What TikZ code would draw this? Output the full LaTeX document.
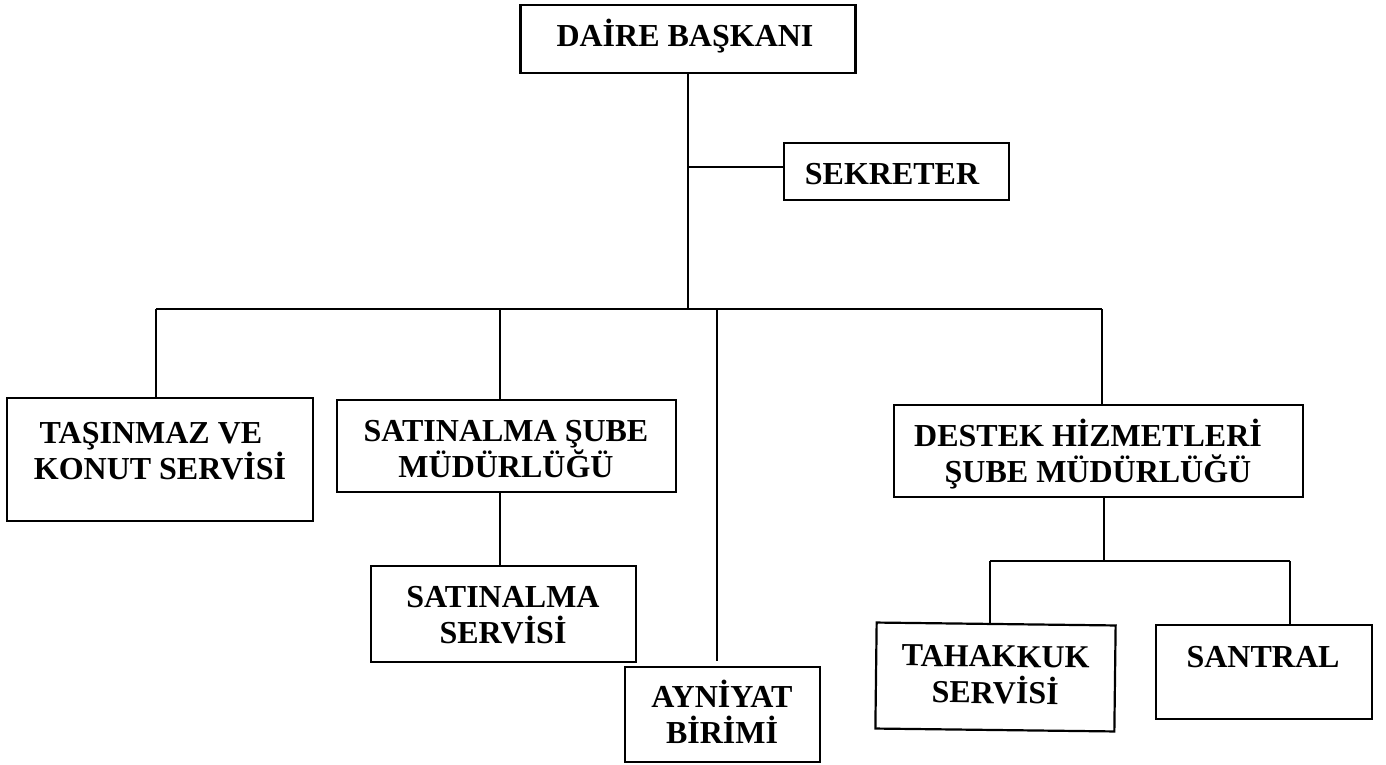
\documentclass[tikz,border=0pt]{standalone}
\usepackage{fontspec}
\setmainfont{Liberation Serif}
\newcommand\orgfont{\fontsize{32}{36.5}\selectfont\bfseries}
\newcommand\twolines[2]{\vtop{\halign{\hfil##\hfil\cr #1\cr #2\cr}}}
\begin{document}
\begin{tikzpicture}[x=1pt,y=-1pt,
  box/.style={draw, line width=2.2pt, rectangle, inner sep=0pt, outer sep=0pt},
  lbl/.style={inner sep=0pt, anchor=base, font=\orgfont},
  conn/.style={line width=1.8pt}]
\useasboundingbox (0,0) rectangle (1386,765);
\fill[white] (0,0) rectangle (1386,765);

% boxes
\node[box, minimum width=335pt, minimum height=68pt] (daire) at (688,39) {};
\node[box, minimum width=225pt, minimum height=57pt] (sekreter) at (896.5,171.5) {};
\node[box, minimum width=306pt, minimum height=123pt] (tasinmaz) at (160,459.5) {};
\node[box, minimum width=339pt, minimum height=92pt] (satsube) at (506.5,446) {};
\node[box, minimum width=265pt, minimum height=96pt] (satserv) at (503.5,614) {};
\node[box, minimum width=195pt, minimum height=95pt] (ayniyat) at (722.5,714.5) {};
\node[box, minimum width=409pt, minimum height=92pt] (destek) at (1098.5,451) {};
\node[box, minimum width=239pt, minimum height=106pt, rotate=-0.7] (tahakkuk) at (995.5,677) {};
\node[box, minimum width=216pt, minimum height=94pt] (santral) at (1264,672) {};

% texts
\node[lbl] (tdaire) at (685,47) {DAİRE BAŞKANI};
\node[lbl] (tsekreter) at (892,184) {SEKRETER};
\node[lbl] (ttasinmaz) at (160,443) {\twolines{TAŞINMAZ VE\hspace{18pt}}{KONUT SERVİSİ}};
\node[lbl] (tsatsube) at (506,441) {\twolines{SATINALMA ŞUBE}{MÜDÜRLÜĞÜ}};
\node[lbl] (tsatserv) at (503,607) {\twolines{SATINALMA}{SERVİSİ}};
\node[lbl] (tayniyat) at (722,707) {\twolines{AYNİYAT}{BİRİMİ}};
\node[lbl] (tdestek) at (1098,446) {\twolines{DESTEK HİZMETLERİ\hspace{20pt}}{ŞUBE MÜDÜRLÜĞÜ}};
\node[lbl, rotate=-0.7] (ttahakkuk) at (995.5,667) {\twolines{TAHAKKUK}{SERVİSİ}};
\node[lbl] (tsantral) at (1263,667) {SANTRAL};

% junction coordinates
\coordinate (jS) at (688,167);
\coordinate (jT) at (156,309);
\coordinate (jSat) at (500,309);
\coordinate (jM) at (688,309);
\coordinate (jA) at (717,309);
\coordinate (aEnd) at (717,661);
\coordinate (jD) at (1102,309);
\coordinate (jD2) at (1104,561);
\coordinate (jTa) at (990,561);
\coordinate (jSa) at (1290,561);

% connectors
\draw[conn] (daire.south) -- (jM);
\draw[conn] (jS) -- (jS -| sekreter.west);
\draw[conn] (jT) -- (jD);
\draw[conn] (jT) -- (jT |- tasinmaz.north);
\draw[conn] (jSat) -- (jSat |- satsube.north);
\draw[conn] (jSat |- satsube.south) -- (jSat |- satserv.north);
\draw[conn] (jA) -- (aEnd);
\draw[conn] (jD) -- (jD |- destek.north);
\draw[conn] (jD2 |- destek.south) -- (jD2);
\draw[conn] (jTa) -- (jSa);
\draw[conn] (jTa) -- (jTa |- tahakkuk.north);
\draw[conn] (jSa) -- (jSa |- santral.north);
\end{tikzpicture}
\end{document}
